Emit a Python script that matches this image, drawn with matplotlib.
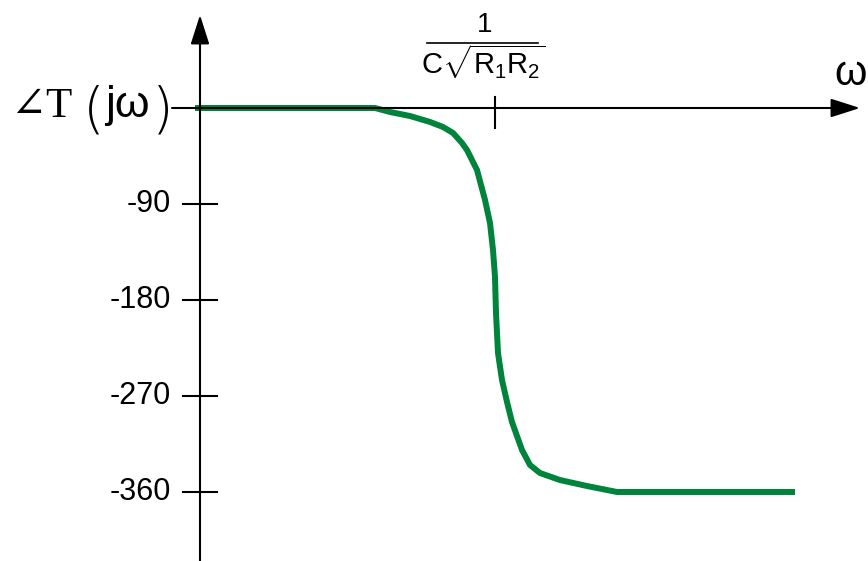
import numpy as np
import matplotlib
matplotlib.use("Agg")
import matplotlib.pyplot as plt

plt.rcParams['font.family'] = ['Liberation Sans', 'DejaVu Sans']
plt.rcParams['mathtext.fontset'] = 'custom'
plt.rcParams['mathtext.rm'] = 'Liberation Sans'
plt.rcParams['mathtext.it'] = 'Liberation Sans'

# phase curve (omega in arbitrary units, phase in degrees)
omega = [-0.05, 1.75, 1.90, 2.10, 2.30, 2.43, 2.53, 2.62, 2.67, 2.77, 2.85,
         2.90, 2.93, 2.95, 2.96, 2.98, 3.02, 3.07, 3.12, 3.22, 3.30, 3.40,
         3.60, 3.87, 4.17, 5.95]
phase = [0, 0, -3.75, -7.5, -13.1, -17.8, -23.4, -32.8, -39.4, -58.1, -86.2,
         -107.8, -133.1, -158.4, -192.2, -229.7, -255.0, -275.6, -294.4,
         -320.6, -334.7, -342.2, -348.8, -354.4, -360, -360]

y_ticks = [-90, -180, -270, -360]
y_tick_labels = ['-90', '-180', '-270', '-360']
w_corner = 2.95  # 1 / (C sqrt(R1 R2))

fig = plt.figure(figsize=(8.68, 5.61), dpi=100)
ax = fig.add_axes([0, 0, 1, 1])
ax.set_xlim(-2.0, 6.68)
ax.set_ylim(-424.7, 101.25)
ax.axis('off')

# axes with arrow heads
arrow = dict(arrowstyle='-|>,head_length=1.0,head_width=0.32', color='k',
             lw=1.5, mutation_scale=18, shrinkA=0, shrinkB=0)
ax.annotate('', xy=(0, 87.2), xytext=(0, -424.7), arrowprops=arrow)
ax.annotate('', xy=(6.6, 0), xytext=(-0.28, 0), arrowprops=arrow)

# y ticks
for v, lab in zip(y_ticks, y_tick_labels):
    ax.plot([-0.17, 0.17], [v, v], color='k', lw=1.5)
    ax.text(-0.29, v, lab, ha='right', va='center', fontsize=22)

# corner frequency tick and its label 1 / (C sqrt(R1 R2))
ax.plot([w_corner, w_corner], [10.5, -18.5], color='k', lw=1.5)
ax.text(2.85, 71.5, '1', ha='center', va='baseline', fontsize=20)
ax.plot([2.27, 3.38], [60.9, 60.9], color='k', lw=1.2)
ax.text(2.83, 31.5, r'$\mathrm{C}\sqrt{\mathrm{R}_1\mathrm{R}_2}$',
        ha='center', va='baseline', fontsize=21)

# phase response
ax.plot(omega, phase, color='#00833a', lw=4.3, solid_capstyle='butt',
        solid_joinstyle='round')

# y axis label  ∠T(jω)
ax.text(-1.90, -8.4, '∠T', ha='left', va='baseline', fontsize=31,
        family=['Liberation Serif', 'DejaVu Serif'])
ax.text(-1.17, -3, '(', ha='left', va='center', fontsize=40,
        family=['DejaVu Sans'], fontweight='light')
ax.text(-0.95, -8.4, 'jω', ha='left', va='baseline', fontsize=32)
ax.text(-0.48, -3, ')', ha='left', va='center', fontsize=40,
        family=['DejaVu Sans'], fontweight='light')

# x axis label
ax.text(6.34, 21.5, 'ω', ha='left', va='baseline', fontsize=30)

fig.savefig('out.png', dpi=100)
